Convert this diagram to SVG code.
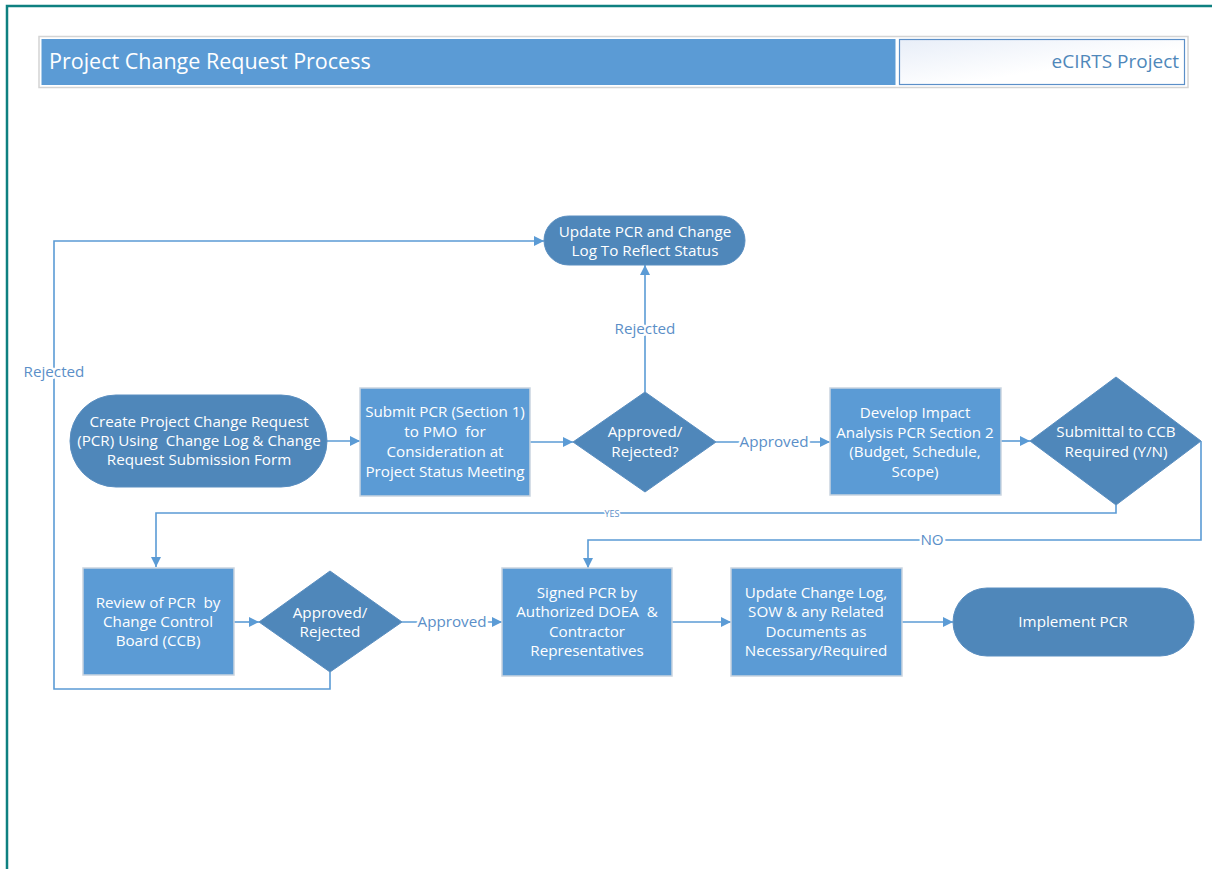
<svg xmlns="http://www.w3.org/2000/svg" width="1212" height="869" viewBox="0 0 1212 869">
<defs>
<marker id="arr" viewBox="0 0 10 10" refX="10" refY="5" markerWidth="10" markerHeight="10" markerUnits="userSpaceOnUse" orient="auto">
<path d="M0,0 L10,5 L0,10 z" fill="#5B9BD5"/>
</marker>
<linearGradient id="hg" x1="0" y1="0" x2="1" y2="1">
<stop offset="0" stop-color="#E8EEF8"/>
<stop offset="0.6" stop-color="#FFFFFF"/>
</linearGradient>
</defs>
<style>
.t{font-family:"Open Sans","Liberation Sans",sans-serif;fill:#fff;font-size:15.2px;text-anchor:middle;white-space:pre}
.box{fill:#5B9BD5;stroke:#C9D4DF;stroke-width:1.5}
.dark{fill:#4F87BA;stroke:#5A8EC0;stroke-width:1}
.c{fill:none;stroke:#5B9BD5;stroke-width:1.6}
.ca{fill:none;stroke:#5B9BD5;stroke-width:1.6;marker-end:url(#arr)}
.lbl{font-family:"Open Sans","Liberation Sans",sans-serif;fill:#5B8FC8;font-size:15.2px;text-anchor:middle;stroke:#fff;stroke-width:5;paint-order:stroke}
</style>
<rect width="1212" height="869" fill="#fff"/>
<path d="M7,869 L7,6 L1212,6" fill="none" stroke="#0E8080" stroke-width="2.5"/>
<g id="header">
<rect x="39" y="36.5" width="1149" height="51" fill="none" stroke="#D4D4D4" stroke-width="1.5"/>
<rect x="41.5" y="39" width="854" height="46" fill="#5B9BD5"/>
<rect x="899.5" y="39.5" width="285" height="45" fill="url(#hg)" stroke="#5B8FC8" stroke-width="1.2"/>
<text x="49" y="69" style="font-family:'Open Sans','Liberation Sans',sans-serif;font-size:21.5px;fill:#fff">Project Change Request Process</text>
<text x="1179" y="68" style="font-family:'Open Sans','Liberation Sans',sans-serif;font-size:19px;fill:#4F87BA;text-anchor:end">eCIRTS Project</text>
</g>
<g id="connectors">
<path class="ca" d="M327,441 L360,441"/>
<path class="ca" d="M530,442 L573,442"/>
<path class="ca" d="M716,442 L830,442"/>
<path class="ca" d="M645,392 L645,265"/>
<path class="ca" d="M1001,441 L1030,441"/>
<path class="ca" d="M1116,505 L1116,513 L156,513 L156,567"/>
<path class="ca" d="M1201,441 L1201,540 L588,540 L588,568"/>
<path class="ca" d="M234,622 L259,622"/>
<path class="ca" d="M402,622 L502,622"/>
<path class="ca" d="M330,672 L330,689 L54,689 L54,241 L544,241"/>
<path class="ca" d="M672,622 L731,622"/>
<path class="ca" d="M902,622 L953,622"/>
<text class="lbl" x="774" y="447">Approved</text>
<text class="lbl" x="645" y="334">Rejected</text>
<text class="lbl" x="54" y="377">Rejected</text>
<text class="lbl" x="452" y="627">Approved</text>
<text class="lbl" x="612" y="517" style="font-size:9px;stroke-width:3">YES</text>
<text class="lbl" x="932" y="545">NO</text>
</g>
<g id="create">
<rect class="dark" x="70" y="395" width="257" height="92" rx="46"/>
<text class="t" x="199" y="427">Create Project Change Request</text>
<text class="t" x="199" y="446">(PCR) Using  Change Log &amp; Change</text>
<text class="t" x="199" y="465">Request Submission Form</text>
</g>
<g id="submit">
<rect class="box" x="360" y="388" width="170" height="108"/>
<text class="t" x="445" y="417">Submit PCR (Section 1)</text>
<text class="t" x="445" y="437">to PMO  for</text>
<text class="t" x="445" y="457">Consideration at</text>
<text class="t" x="445" y="477">Project Status Meeting</text>
</g>
<g id="decision1">
<polygon class="dark" points="645,392 716,442 645,492 573,442"/>
<text class="t" x="645" y="437">Approved/</text>
<text class="t" x="645" y="457">Rejected?</text>
</g>
<g id="updatepcr">
<rect class="dark" x="544" y="216" width="201" height="49" rx="24.5"/>
<text class="t" x="645" y="237">Update PCR and Change</text>
<text class="t" x="645" y="256">Log To Reflect Status</text>
</g>
<g id="develop">
<rect class="box" x="830" y="388" width="171" height="107"/>
<text class="t" x="915" y="418">Develop Impact</text>
<text class="t" x="915" y="438">Analysis PCR Section 2</text>
<text class="t" x="915" y="457">(Budget, Schedule,</text>
<text class="t" x="915" y="477">Scope)</text>
</g>
<g id="decision2">
<polygon class="dark" points="1116,377 1201,441 1116,505 1030,441"/>
<text class="t" x="1116" y="437">Submittal to CCB</text>
<text class="t" x="1116" y="457">Required (Y/N)</text>
</g>
<g id="review">
<rect class="box" x="83" y="568" width="151" height="107"/>
<text class="t" x="158" y="608">Review of PCR  by</text>
<text class="t" x="158" y="627">Change Control</text>
<text class="t" x="158" y="646">Board (CCB)</text>
</g>
<g id="decision3">
<polygon class="dark" points="330,571 402,622 330,672 259,622"/>
<text class="t" x="330" y="618">Approved/</text>
<text class="t" x="330" y="637">Rejected</text>
</g>
<g id="signed">
<rect class="box" x="502" y="568" width="170" height="108"/>
<text class="t" x="587" y="598">Signed PCR by</text>
<text class="t" x="587" y="617">Authorized DOEA  &amp;</text>
<text class="t" x="587" y="637">Contractor</text>
<text class="t" x="587" y="656">Representatives</text>
</g>
<g id="updatelog">
<rect class="box" x="731" y="568" width="171" height="108"/>
<text class="t" x="816" y="598">Update Change Log,</text>
<text class="t" x="816" y="617">SOW &amp; any Related</text>
<text class="t" x="816" y="637">Documents as</text>
<text class="t" x="816" y="656">Necessary/Required</text>
</g>
<g id="implement">
<rect class="dark" x="953" y="588" width="241" height="68" rx="34"/>
<text class="t" x="1073" y="627">Implement PCR</text>
</g>
</svg>
